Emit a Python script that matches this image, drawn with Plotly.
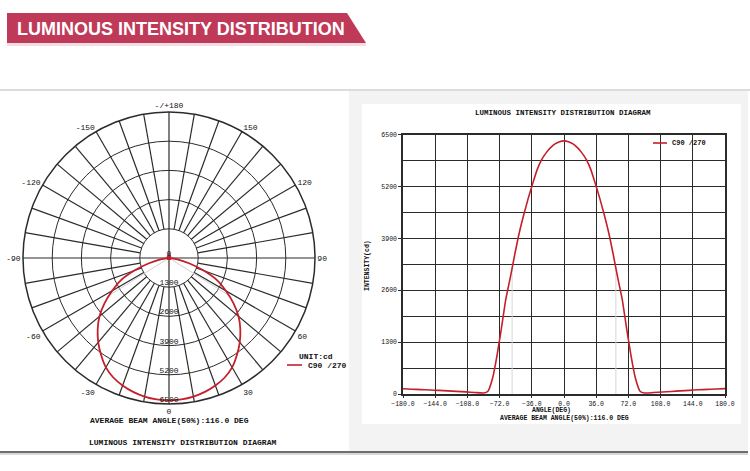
import plotly.graph_objects as go

W, H = 750, 471

# C90/270 intensity curve (cd)
angles = [-180, -170, -160, -150, -140, -130, -120, -110, -100, -90, -85, -80, -75, -70,
          -65, -60, -55, -50, -45, -40, -35, -30, -25, -20, -15, -10, -5, 0,
          5, 10, 15, 20, 25, 30, 35, 40, 45, 50, 55, 60, 65, 70, 75, 80, 85, 90,
          100, 110, 120, 130, 140, 150, 160, 170, 180]
intensity = [130, 120, 110, 100, 90, 78, 66, 52, 38, 24, 70, 380, 950, 1640,
             2380, 2920, 3500, 4040, 4490, 4900, 5270, 5620, 5870, 6040, 6170, 6265, 6320, 6340,
             6320, 6265, 6170, 6040, 5870, 5620, 5270, 4900, 4490, 4040, 3500, 2920, 2380, 1640, 950, 380, 70, 24,
             36, 50, 64, 78, 92, 105, 115, 125, 135]

# beam angle markers (50% of peak)
beam_angles = [-58, 58]
beam_half = 3170

# polar axis labels
polar_tickvals = [0, 30, 60, 90, 120, 150, 180, 210, 240, 270, 300, 330]
polar_ticktext = ["0", "30", "60", "90", "120", "150", "-/+180", "-150", "-120", "-90", "-60", "-30"]
radial_ticks = [1300, 2600, 3900, 5200, 6500]
radial_labels = ["0", "1300", "2600", "3900", "5200", "6500"]

# cartesian axis labels
x_ticks = [-180, -144, -108, -72, -36, 0, 36, 72, 108, 144, 180]
y_ticks = [0, 1300, 2600, 3900, 5200, 6500]

RED = "#c41f2b"
GRID = "#2b2b2b"
MONO = "Liberation Mono, Courier New, monospace"


def px(x):
    return x / W


def py(y):
    return 1 - y / H


fig = go.Figure()

# ---- polar diagram ----
spoke_r, spoke_t = [], []
for a in range(0, 360, 10):
    spoke_r += [0 if a % 90 == 0 else radial_ticks[0], radial_ticks[-1], None]
    spoke_t += [a, a, None]
fig.add_trace(go.Scatterpolar(r=spoke_r, theta=spoke_t, mode="lines",
                              line=dict(color=GRID, width=1.2), hoverinfo="skip", showlegend=False))

fig.add_trace(go.Scatterpolar(r=[beam_half, 0, beam_half], theta=[beam_angles[0], 0, beam_angles[1]],
                              mode="lines", line=dict(color="#cfcfcf", width=1),
                              hoverinfo="skip", showlegend=False))

fig.add_trace(go.Scatterpolar(r=intensity, theta=angles, mode="lines",
                              line=dict(color=RED, width=1.8, shape="spline", smoothing=0.5),
                              showlegend=False))

fig.add_trace(go.Scatterpolar(r=[0], theta=[0], mode="markers",
                              marker=dict(color=RED, size=4, symbol="square"),
                              hoverinfo="skip", showlegend=False))

fig.add_trace(go.Scatterpolar(r=[0] + radial_ticks, theta=[0] * 6, mode="text",
                              text=radial_labels, textposition="top center",
                              textfont=dict(family=MONO, size=8, color="#111"),
                              hoverinfo="skip", showlegend=False))

# ---- cartesian diagram ----
fig.add_trace(go.Scatter(x=[beam_angles[0], beam_angles[0], None, beam_angles[1], beam_angles[1]],
                         y=[0, beam_half, None, 0, beam_half], mode="lines",
                         line=dict(color="#d6d6d6", width=1), hoverinfo="skip", showlegend=False))

fig.add_trace(go.Scatter(x=angles, y=intensity, mode="lines",
                         line=dict(color=RED, width=1.6, shape="spline", smoothing=0.5),
                         showlegend=False))

shapes = [
    # header ribbon
    dict(type="path", xref="paper", yref="paper",
         path=f"M {px(7)},{py(13)} L {px(347)},{py(13)} L {px(366)},{py(43)} L {px(7)},{py(43)} Z",
         fillcolor="#bf3a58", line=dict(width=0), layer="below"),
    dict(type="rect", xref="paper", yref="paper", x0=px(7), x1=px(366), y0=py(46), y1=py(43),
         fillcolor="#f3dde3", line=dict(width=0), layer="below"),
    # panel frame
    dict(type="line", xref="paper", yref="paper", x0=0, x1=1, y0=py(90), y1=py(90),
         line=dict(color="#d0d0d0", width=1.5), layer="below"),
    dict(type="rect", xref="paper", yref="paper", x0=px(349), x1=px(748), y0=py(452), y1=py(91),
         fillcolor="#f3f3f3", line=dict(width=0), layer="below"),
    dict(type="rect", xref="paper", yref="paper", x0=px(362), x1=px(741), y0=py(424), y1=py(104),
         fillcolor="white", line=dict(width=0), layer="below"),
    dict(type="line", xref="paper", yref="paper", x0=0, x1=px(748), y0=py(452), y1=py(452),
         line=dict(color="#6e6e6e", width=2), layer="below"),
    dict(type="line", xref="paper", yref="paper", x0=0, x1=px(748), y0=py(454), y1=py(454),
         line=dict(color="#d8d8d8", width=2), layer="below"),
    # legend swatches
    dict(type="line", xref="paper", yref="paper", x0=px(287), x1=px(302), y0=py(365), y1=py(365),
         line=dict(color=RED, width=1.6)),
    dict(type="line", xref="paper", yref="paper", x0=px(653), x1=px(667), y0=py(143), y1=py(143),
         line=dict(color=RED, width=1.6)),
]


def label(x, y, text, size, xanchor="center", angle=0):
    return dict(x=px(x), y=py(y), xref="paper", yref="paper", text=text, showarrow=False,
                xanchor=xanchor, yanchor="middle", textangle=angle,
                font=dict(family=MONO, size=size, color="#111"))


annotations = [
    dict(x=px(15), y=py(29), xref="paper", yref="paper", text="<b>LUMINOUS INTENSITY DISTRIBUTION</b>",
         showarrow=False, xanchor="left", yanchor="middle",
         font=dict(family="Liberation Sans, Arial, sans-serif", size=18, color="white")),
    label(297, 356, "<b>UNIT:cd</b>", 8, "left"),
    label(306, 365, "<b>C90 /270</b>", 8, "left"),
    label(169, 420, "<b>AVERAGE BEAM ANGLE(50%):116.0 DEG</b>", 8),
    label(182, 442, "<b>LUMINOUS INTENSITY DISTRIBUTION DIAGRAM</b>", 8),
    label(563, 113, "<b>LUMINOUS INTENSITY DISTRIBUTION DIAGRAM</b>", 7.5),
    label(670, 143, "<b>C90 /270</b>", 7, "left"),
    label(551, 410, "<b>ANGLE(DEG)</b>", 6.5),
    label(564, 418, "<b>AVERAGE BEAM ANGLE(50%):116.0 DEG</b>", 6.5),
    label(367, 266, "<b>INTENSITY(cd)</b>", 6.5, angle=-90),
]

fig.update_layout(
    width=W, height=H,
    margin=dict(l=0, r=0, t=0, b=0, autoexpand=False),
    paper_bgcolor="white",
    plot_bgcolor="white",
    showlegend=False,
    polar=dict(
        domain=dict(x=[px(169 - 146), px(169 + 146)], y=[py(258 + 146), py(258 - 146)]),
        bgcolor="white",
        angularaxis=dict(rotation=-90, direction="counterclockwise",
                         tickmode="array", tickvals=polar_tickvals, ticktext=polar_ticktext,
                         showgrid=False, showline=True, linecolor=GRID, linewidth=1.5, ticks="",
                         tickfont=dict(family=MONO, size=8, color="#111")),
        radialaxis=dict(range=[0, radial_ticks[-1]], tickmode="array", tickvals=radial_ticks[:-1],
                        showticklabels=False, showline=False, ticks="",
                        showgrid=True, gridcolor=GRID, gridwidth=1.2),
    ),
    xaxis=dict(domain=[px(403), px(725)], range=[-180, 180], tickmode="array", tickvals=x_ticks,
               tickformat=".1f", showgrid=True, gridcolor=GRID, gridwidth=1.3, zeroline=False,
               showline=True, linecolor=GRID, linewidth=1.5, mirror=True, automargin=False,
               ticks="outside", ticklen=2, tickcolor=GRID,
               tickfont=dict(family=MONO, size=6.5, color="#111")),
    yaxis=dict(domain=[py(394), py(134.5)], range=[0, 6500], tickmode="array", tickvals=y_ticks,
               showgrid=True, gridcolor=GRID, gridwidth=1.3, zeroline=False, automargin=False,
               minor=dict(tickvals=[650, 1950, 3250, 4550, 5850], showgrid=True, gridcolor=GRID, gridwidth=1.3),
               showline=True, linecolor=GRID, linewidth=1.5, mirror=True,
               ticks="outside", ticklen=3, tickcolor=GRID,
               tickfont=dict(family=MONO, size=6.5, color="#111")),
    shapes=shapes,
    annotations=annotations,
)

# page body has a default 8px margin; drop it so the figure sits at the window's corner
fig.write_html("out.html", config={"displayModeBar": False},
               post_script="document.body.style.margin = '0';")
